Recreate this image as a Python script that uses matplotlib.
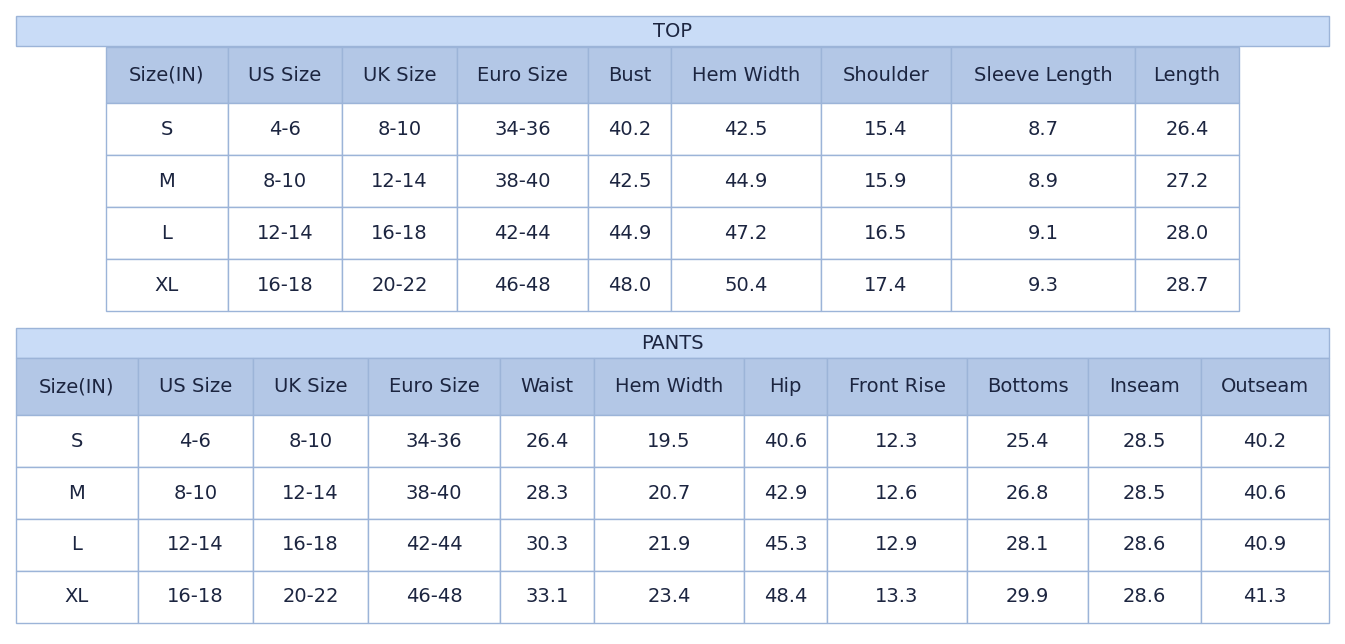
import matplotlib
matplotlib.use("Agg")
import matplotlib.pyplot as plt
from matplotlib.patches import Rectangle

top_title = "TOP"
top_header = ["Size(IN)", "US Size", "UK Size", "Euro Size", "Bust", "Hem Width", "Shoulder", "Sleeve Length", "Length"]
top_rows = [
    ["S", "4-6", "8-10", "34-36", "40.2", "42.5", "15.4", "8.7", "26.4"],
    ["M", "8-10", "12-14", "38-40", "42.5", "44.9", "15.9", "8.9", "27.2"],
    ["L", "12-14", "16-18", "42-44", "44.9", "47.2", "16.5", "9.1", "28.0"],
    ["XL", "16-18", "20-22", "46-48", "48.0", "50.4", "17.4", "9.3", "28.7"],
]
pants_title = "PANTS"
pants_header = ["Size(IN)", "US Size", "UK Size", "Euro Size", "Waist", "Hem Width", "Hip", "Front Rise", "Bottoms", "Inseam", "Outseam"]
pants_rows = [
    ["S", "4-6", "8-10", "34-36", "26.4", "19.5", "40.6", "12.3", "25.4", "28.5", "40.2"],
    ["M", "8-10", "12-14", "38-40", "28.3", "20.7", "42.9", "12.6", "26.8", "28.5", "40.6"],
    ["L", "12-14", "16-18", "42-44", "30.3", "21.9", "45.3", "12.9", "28.1", "28.6", "40.9"],
    ["XL", "16-18", "20-22", "46-48", "33.1", "23.4", "48.4", "13.3", "29.9", "28.6", "41.3"],
]

TITLE_BG = "#c9dcf7"
HEAD_BG = "#b3c7e6"
BORDER = "#9cb4d8"
TXT = "#1c2540"
FS = 14

fig = plt.figure(figsize=(13.45, 6.44), dpi=100)
ax = fig.add_axes([0, 0, 1, 1])
ax.set_xlim(0, 1345)
ax.set_ylim(644, 0)
ax.axis("off")

def cell(x0, x1, y0, y1, text, bg):
    ax.add_patch(Rectangle((x0, y0), x1 - x0, y1 - y0, facecolor=bg, edgecolor=BORDER, lw=1))
    ax.text((x0 + x1) / 2, (y0 + y1) / 2, text, ha="center", va="center", fontsize=FS, color=TXT)

def table(title, ty, header, rows, xs, hy0, hy1, rh):
    cell(16, 1329, ty, ty + 30, title, TITLE_BG)
    for i, h in enumerate(header):
        cell(xs[i], xs[i + 1], hy0, hy1, h, HEAD_BG)
    for r, row in enumerate(rows):
        y0 = hy1 + r * rh
        for i, v in enumerate(row):
            cell(xs[i], xs[i + 1], y0, y0 + rh, v, "white")

table(top_title, 16, top_header, top_rows,
      [106, 228, 342, 457, 588, 671, 821, 951, 1135, 1239], 47, 103, 52)
table(pants_title, 328, pants_header, pants_rows,
      [16, 138, 253, 368, 500, 594, 744, 827, 967, 1088, 1201, 1329], 358, 415, 52)

fig.savefig("out.png", dpi=100, facecolor="white")
